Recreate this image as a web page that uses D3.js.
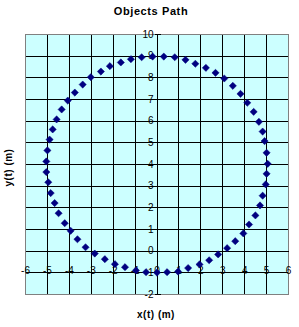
<!DOCTYPE html>
<html>
<head>
<meta charset="utf-8">
<script src="https://cdn.jsdelivr.net/npm/d3@7"></script>
<style>
  html, body { margin: 0; padding: 0; background: #ffffff; }
  svg { display: block; }
  text { font-family: Arial, "Liberation Sans", sans-serif; }
</style>
</head>
<body>
<script>
// ---- data ----
const chartTitle = "Objects Path";
const xTitle = "x(t) (m)";
const yTitle = "y(t) (m)";
const xTicks = [-6, -5, -4, -3, -2, -1, 0, 1, 2, 3, 4, 5, 6];
const yTicks = [-2, -1, 0, 1, 2, 3, 4, 5, 6, 7, 8, 9, 10];
const xValues = [
  5.05, 5.00, 4.91, 4.82, 4.65, 4.41, 4.12, 3.81, 3.46, 3.07, 2.67, 2.23, 1.75, 1.30, 0.81, 0.31,
  -0.20, -0.70, -1.19, -1.65, -2.15, -2.56, -3.02, -3.39, -3.75, -4.07, -4.35, -4.58, -4.76, -4.90,
  -5.00, -5.05, -5.05, -4.96, -4.85, -4.67, -4.49, -4.21, -3.94, -3.63, -3.26, -2.84, -2.38, -1.92, -1.46, -0.96, -0.50,
  0.00,
  0.46, 0.96, 1.42, 1.94, 2.38, 2.79, 3.20, 3.57, 3.94, 4.20, 4.49, 4.70, 4.82, 4.96, 5.00
];
const yValues = [
  4.03, 4.54, 5.08, 5.52, 5.97, 6.43, 6.85, 7.26, 7.63, 7.97, 8.23, 8.46, 8.65, 8.83, 8.95, 8.98,
  8.98, 8.95, 8.86, 8.71, 8.54, 8.29, 8.03, 7.69, 7.32, 6.95, 6.54, 6.08, 5.62, 5.15,
  4.65, 4.14, 3.65, 3.18, 2.68, 2.22, 1.75, 1.29, 0.94, 0.55, 0.18, -0.11, -0.37, -0.60, -0.74, -0.89, -0.97,
  -0.99,
  -0.97, -0.94, -0.78, -0.61, -0.42, -0.15, 0.14, 0.46, 0.82, 1.23, 1.65, 2.11, 2.56, 3.08, 3.57
];

// ---- layout ----
const W = 299, H = 327;
const plot = { left: 25, right: 288, top: 34, bottom: 294 };

const svg = d3.select("body").append("svg").attr("width", W).attr("height", H);

const x = d3.scaleLinear().domain([-6, 6]).range([plot.left, plot.right]);
const y = d3.scaleLinear().domain([-2, 10]).range([plot.bottom, plot.top]);
const px = v => Math.round(x(v)) + 0.5;
const py = v => Math.round(y(v)) + 0.5;

// plot background
svg.append("rect")
  .attr("x", plot.left + 0.5).attr("y", plot.top + 0.5)
  .attr("width", plot.right - plot.left).attr("height", plot.bottom - plot.top)
  .attr("fill", "#ccffff");

// gridlines
const grid = svg.append("g").attr("stroke", "#000").attr("stroke-width", 1).attr("shape-rendering", "crispEdges");
grid.selectAll("line.v").data(xTicks.slice(1, -1)).join("line")
  .attr("x1", d => px(d)).attr("x2", d => px(d))
  .attr("y1", plot.top + 0.5).attr("y2", plot.bottom + 0.5);
grid.selectAll("line.h").data(yTicks.slice(1, -1)).join("line")
  .attr("y1", d => py(d)).attr("y2", d => py(d))
  .attr("x1", plot.left + 0.5).attr("x2", plot.right + 0.5);

// plot border
svg.append("rect")
  .attr("x", plot.left + 0.5).attr("y", plot.top + 0.5)
  .attr("width", plot.right - plot.left).attr("height", plot.bottom - plot.top)
  .attr("fill", "none").attr("stroke", "#808080").attr("shape-rendering", "crispEdges");

// axes (x = 0, y = 0) with ticks
const ax = svg.append("g").attr("stroke", "#000").attr("shape-rendering", "crispEdges");
ax.selectAll("line.yt").data(yTicks).join("line")
  .attr("x1", px(0) - 3).attr("x2", px(0) + 3)
  .attr("y1", d => py(d)).attr("y2", d => py(d));
ax.append("line").attr("x1", px(0)).attr("x2", px(0)).attr("y1", plot.top + 0.5).attr("y2", plot.bottom + 0.5);
ax.append("line").attr("y1", py(0)).attr("y2", py(0)).attr("x1", plot.left + 0.5).attr("x2", plot.right + 0.5);

// y tick labels
svg.append("g").selectAll("text").data(yTicks).join("text")
  .attr("x", px(0) - 4).attr("y", d => y(d) + 3.6)
  .attr("text-anchor", "end").attr("font-size", 10).attr("fill", "#000")
  .text(d => d);

// x tick labels
svg.append("g").selectAll("text").data(xTicks).join("text")
  .attr("x", d => x(d) + 0.5).attr("y", y(-1) + 1.5)
  .attr("text-anchor", "middle").attr("font-size", 10).attr("fill", "#000")
  .text(d => d);

// markers
const diamond = r => `M0,${-r}L${r},0L0,${r}L${-r},0Z`;
svg.append("g").selectAll("path").data(xValues.map((v, i) => [v, yValues[i]])).join("path")
  .attr("transform", d => `translate(${x(d[0]) + 0.5},${y(d[1]) + 0.5})`)
  .attr("d", diamond(3.6))
  .attr("fill", "#000080").attr("stroke", "#000080").attr("stroke-width", 0.5);

// titles
svg.append("text").attr("x", 151).attr("y", 15).attr("text-anchor", "middle")
  .attr("font-size", 11).attr("font-weight", "bold").attr("letter-spacing", 0.6).text(chartTitle);
svg.append("text").attr("x", 156).attr("y", 318).attr("text-anchor", "middle")
  .attr("font-size", 10).attr("font-weight", "bold").attr("letter-spacing", 0.5).text(xTitle);
svg.append("text").attr("transform", "translate(12,167.5) rotate(-90)").attr("text-anchor", "middle")
  .attr("font-size", 10).attr("font-weight", "bold").attr("letter-spacing", 0.5).text(yTitle);
</script>
</body>
</html>
